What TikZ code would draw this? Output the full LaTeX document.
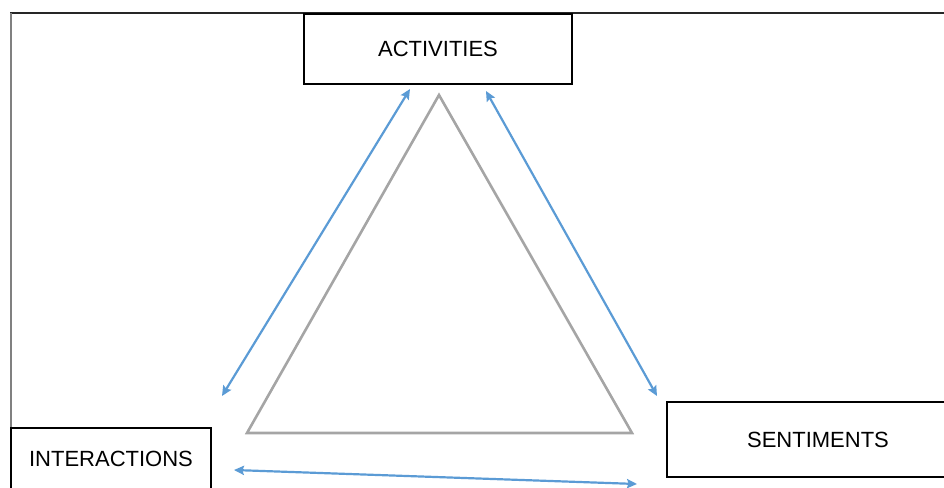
\documentclass[tikz,border=0pt]{standalone}
\usepackage{fontspec}
\setmainfont{Liberation Sans}
\usetikzlibrary{arrows.meta}

\definecolor{linkblue}{HTML}{5B9BD5}
\definecolor{trigray}{HTML}{A5A5A5}

\begin{document}
\begin{tikzpicture}[x=0.5pt, y=-0.5pt, >={Stealth[length=5pt, width=4.6pt, inset=0.8pt]},
    box/.style={rectangle, draw, line width=1pt, inner sep=0pt, font=\fontsize{11}{13}\selectfont},
    link/.style={<->, draw=linkblue, fill=linkblue, line width=1.1pt},
    tri/.style={draw=trigray, line width=1.3pt, line join=miter}]
    \clip (0,0) rectangle (944,488);
    % frame
    \draw[line width=0.6pt, black!85] (10,13) -- (944,13);
    \draw[line width=0.6pt, gray] (11,13) -- (11,488);
    % the three boxes
    \node[box, minimum width=134pt, minimum height=35pt] (act) at (438,49) {ACTIVITIES};
    \node[box, minimum width=100pt, minimum height=31pt] (inter) at (111,459) {INTERACTIONS};
    \node[box, minimum width=151pt, minimum height=37.5pt] (sent) at (818,439.5) {SENTIMENTS};
    % triangle
    \coordinate (top) at (439,95);
    \coordinate (left) at (247,433);
    \coordinate (right) at (632,433);
    \draw[tri] (top) -- (right) -- (left) -- cycle;
    % arrow ends
    \coordinate (actL) at (410,89);
    \coordinate (actR) at (486,91);
    \coordinate (interT) at (222,396);
    \coordinate (interR) at (234,470);
    \coordinate (sentT) at (657,396);
    \coordinate (sentL) at (637,484);
    \draw[link] (actL) -- (interT);
    \draw[link] (actR) -- (sentT);
    \draw[link] (interR) -- (sentL);
\end{tikzpicture}
\end{document}
